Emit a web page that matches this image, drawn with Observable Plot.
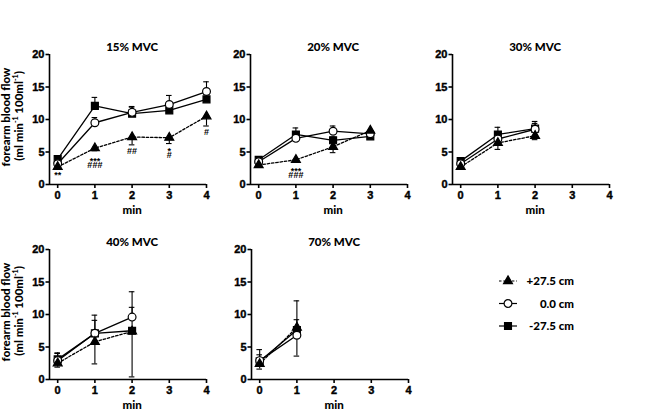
<!DOCTYPE html>
<html><head><meta charset="utf-8">
<script src="https://cdn.jsdelivr.net/npm/d3@7"></script>
<script src="https://cdn.jsdelivr.net/npm/@observablehq/plot@0.6"></script>
<style>
body{margin:0;background:#fff;}
#root{position:relative;width:669px;height:411px;overflow:hidden;background:#fff;}
.panel{position:absolute;}
.panel [aria-label$="tick label"] text{stroke:#000;stroke-width:0.4px;}
.ylab{position:absolute;transform:translate(-50%,-50%) rotate(-90deg);white-space:nowrap;font-family:Lato,sans-serif;font-weight:900;font-size:11.5px;color:#000;line-height:1;}
.ylab sup{font-size:7px;vertical-align:super;line-height:0;}
</style></head><body><div id="root"></div>
<script>
// ---------- data ----------
const minutes = [0, 1, 2, 3, 4];
const series = ["+27.5 cm", "0.0 cm", "-27.5 cm"];
const panelTitles = ["15% MVC", "20% MVC", "30% MVC", "40% MVC", "70% MVC"];
const xLabel = "min";
const yLabel1 = "forearm blood flow";
const yTicks = [0, 5, 10, 15, 20];

// means (ml min-1 100ml-1), one list per panel, aligned with minutes
const plus275 = [[2.7, 5.6, 7.3, 7.2, 10.5], [3.0, 3.8, 5.8, 8.3], [2.7, 6.4, 7.5], [2.5, 5.8, 7.4], [2.4, 8.0]];
const zero00 = [[3.2, 9.5, 11.1, 12.3, 14.3], [3.5, 7.1, 8.2, 7.8], [3.2, 7.0, 8.5], [2.9, 7.1, 9.6], [2.9, 6.8]];
const minus275 = [[3.9, 12.1, 10.9, 11.4, 13.1], [3.8, 7.7, 6.8, 7.4], [3.6, 7.7, 8.6], [3.1, 7.1, 7.5], [2.8, 7.6]];
// SEM
const plus275Err = [[0.3, 0.4, 1.2, 0.9, 1.5], [0.3, 0.3, 0.9, 0.3], [0.3, 1.0, 0.6], [0.6, 3.4, 7.0], [0.8, 4.4]];
const zero00Err = [[0.4, 0.8, 0.8, 1.4, 1.5], [0.3, 0.6, 0.8, 0.4], [0.3, 0.8, 0.9], [1.2, 2.8, 3.9], [1.7, 5.3]];
const minus275Err = [[0.4, 1.3, 1.1, 0.7, 0.8], [0.3, 1.0, 0.5, 0.4], [0.3, 1.1, 1.1], [0.9, 2.0, 3.6], [1.0, 1.6]];

// significance marks
const sigText = [["**", "***\n###", "##", "*\n#", "#"], ["***\n###"], [], [], []];
const sigMin = [[0, 1, 2, 3, 4], [1], [], [], []];
const sigLevel = [[1.2, 3.1, 4.9, 4.65, 7.85], [1.5], [], [], []];

// ---------- styles / layout ----------
const means = [plus275, zero00, minus275];
const errs = [plus275Err, zero00Err, minus275Err];
const styles = [
  {symbol: "triangle", r: 3.3, fill: "black", dash: "2.5,1.8", dir: -1},
  {symbol: "circle", r: 3.9, fill: "white", dash: null, dir: 1},
  {symbol: "square", r: 3.9, fill: "black", dash: null, dir: 1}
];
const panelLeft = [49, 250, 452, 49, 251];
const panelTop = [54, 54, 54, 249, 249];
const FW = 157, FH = 130, ML = 32, MR = 12, MT = 32, MB = 33;
const tickFont = "'Liberation Sans', Arial, sans-serif";
const labelFont = "Lato, sans-serif";

const root = document.getElementById("root");

panelTitles.forEach((title, p) => {
  const rows = [];
  series.forEach((s, k) => {
    means[k][p].forEach((v, i) => rows.push({s, k, min: minutes[i], v, e: errs[k][p][i], dir: styles[k].dir}));
  });
  const sig = sigText[p].map((t, i) => ({t, min: sigMin[p][i], y: sigLevel[p][i]}));

  const marks = [
    Plot.ruleY([0], {stroke: "black", strokeWidth: 1.6}),
    Plot.ruleX([-0.22], {stroke: "black", strokeWidth: 1.6}),
    Plot.axisY({ticks: yTicks, tickSize: 3.5, tickPadding: 1.5, label: null, strokeWidth: 1.6, tickFormat: "d"}),
    Plot.axisX({ticks: minutes, tickSize: 4, tickPadding: 3, label: null, strokeWidth: 1.6, tickFormat: "d"}),
    Plot.text([title], {x: 2, frameAnchor: "top", dy: -7.5, lineAnchor: "middle",
      fontFamily: labelFont, fontWeight: 900, fontSize: 11.5, fill: "black"}),
    Plot.text([xLabel], {x: 2, frameAnchor: "bottom", dy: 26, lineAnchor: "middle",
      fontFamily: labelFont, fontWeight: 900, fontSize: 11.5, fill: "black"})
  ];
  const order = [2, 1, 0];
  order.forEach(k => {
    const d = rows.filter(r => r.k === k);
    marks.push(Plot.line(d, {x: "min", y: "v", stroke: "black", strokeWidth: 1.3,
      strokeDasharray: styles[k].dash}));
  });
  order.forEach(k => {
    const d = rows.filter(r => r.k === k);
    marks.push(Plot.ruleX(d, {x: "min", y1: "v", y2: r => r.v + r.dir * r.e, stroke: "black", strokeWidth: 1.1}));
    marks.push(Plot.ruleY(d, {y: r => r.v + r.dir * r.e, x1: r => r.min - 0.075, x2: r => r.min + 0.075,
      stroke: "black", strokeWidth: 1.1}));
  });
  order.forEach(k => {
    const d = rows.filter(r => r.k === k);
    const st = styles[k];
    marks.push(Plot.dot(d, {x: "min", y: "v", symbol: st.symbol, r: st.r, fill: st.fill,
      stroke: "black", strokeWidth: 1.2}));
  });
  marks.push(Plot.text(sig, {x: "min", y: "y", text: "t", lineHeight: 0.45,
    fontFamily: tickFont, fontWeight: 700, fontSize: 9, fill: "black"}));

  const chart = Plot.plot({
    width: ML + FW + MR, height: MT + FH + MB,
    marginLeft: ML, marginRight: MR, marginTop: MT, marginBottom: MB,
    x: {domain: [-0.22, 4], axis: null},
    y: {domain: [0, 20], axis: null},
    symbol: {domain: ["triangle", "circle", "square"], range: ["triangle", "circle", "square"]},
    style: {background: "transparent", color: "black", overflow: "visible",
      fontFamily: tickFont, fontSize: "11px", fontWeight: "bold"},
    marks
  });
  chart.classList.add("panel");
  chart.style.left = (panelLeft[p] - ML) + "px";
  chart.style.top = (panelTop[p] - MT) + "px";
  root.appendChild(chart);

  if (panelLeft[p] < 100) {
    const cy = panelTop[p] + FH / 2 - 2;
    const l1 = document.createElement("div");
    l1.className = "ylab"; l1.textContent = yLabel1;
    l1.style.left = "6px"; l1.style.top = cy + "px";
    root.appendChild(l1);
    const l2 = document.createElement("div");
    l2.className = "ylab"; l2.innerHTML = "(ml min<sup>-1</sup> 100ml<sup>-1</sup>)";
    l2.style.left = "19px"; l2.style.top = (cy - 1) + "px";
    root.appendChild(l2);
  }
});

// ---------- legend ----------
const leg = d3.select(root).append("svg")
  .attr("width", 110).attr("height", 80)
  .style("position", "absolute").style("left", "490px").style("top", "262px");
const symMap = {triangle: d3.symbolTriangle, circle: d3.symbolCircle, square: d3.symbolSquare};
series.forEach((s, k) => {
  const st = styles[k];
  const g = leg.append("g").attr("transform", `translate(0,${19 + k * 22.5})`);
  g.append("line").attr("x1", 9).attr("x2", 27).attr("stroke", "black").attr("stroke-width", 1.2)
    .attr("stroke-dasharray", st.dash);
  g.append("path").attr("transform", "translate(18,0)")
    .attr("d", d3.symbol(symMap[st.symbol], Math.PI * st.r * st.r)())
    .attr("fill", st.fill).attr("stroke", "black").attr("stroke-width", 1.2);
  g.append("text").attr("x", 84).attr("dy", "0.35em").attr("text-anchor", "end")
    .attr("font-family", labelFont).attr("font-weight", 900).attr("font-size", 11.5).text(s);
});
</script></body></html>
